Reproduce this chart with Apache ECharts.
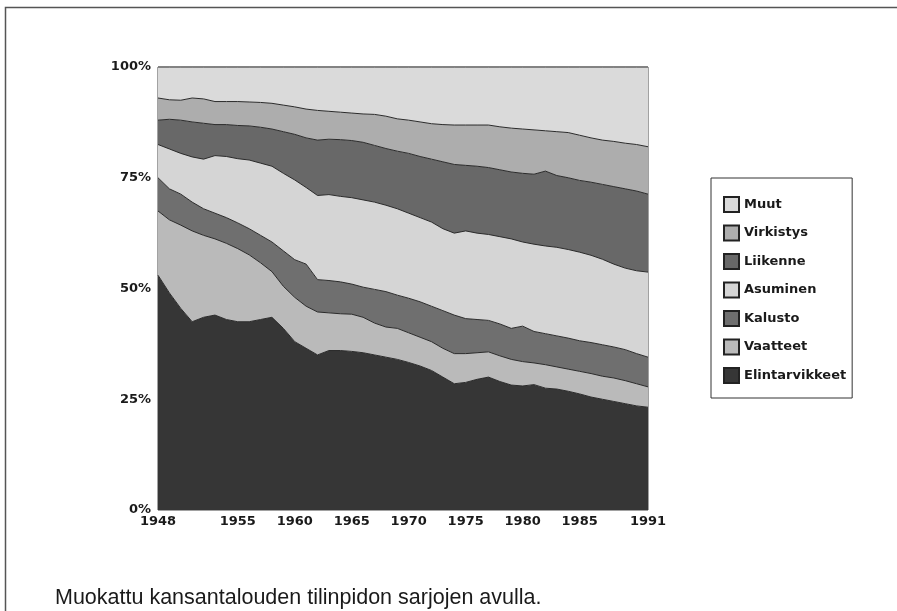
<!DOCTYPE html>
<html>
<head>
<meta charset="utf-8">
<title>Kulutusrakenne 1948-1991</title>
<script src="https://cdn.jsdelivr.net/npm/echarts@6/dist/echarts.min.js"></script>
<style>
  html, body { margin: 0; padding: 0; background: #fff; }
  #chart { width: 897px; height: 611px; }
</style>
</head>
<body>
<div id="chart"></div>
<script>
// vuodet 1948-1991
var years = [];
for (var y = 1948; y <= 1991; y++) years.push(String(y));
var shownYears = ['1948', '1955', '1960', '1965', '1970', '1975', '1980', '1985', '1991'];
var yTicks = ['0%', '25%', '50%', '75%', '100%'];

// osuudet kulutuksesta, %
var elintarvikkeet = [53, 49, 45.5, 42.5, 43.5, 44, 43, 42.5, 42.5, 43, 43.5, 41, 38, 36.5, 35, 36, 36, 35.8, 35.5, 35, 34.5, 34,
  33.3, 32.5, 31.5, 30, 28.5, 28.8, 29.5, 30, 29, 28.2, 28, 28.3, 27.5, 27.3, 26.8, 26.2, 25.5, 25, 24.5, 24, 23.5, 23.2];
var vaatteet = [14.5, 16.5, 18.8, 20.5, 18.5, 17.2, 17.2, 16.5, 15.1, 12.8, 10.3, 9.5, 10, 9.5, 9.7, 8.5, 8.3, 8.4, 8, 7.2, 6.8, 7,
  6.7, 6.5, 6.5, 6.5, 6.8, 6.5, 6, 5.7, 5.8, 5.8, 5.5, 4.9, 5.3, 5, 5, 5.1, 5.3, 5.2, 5.3, 5.2, 5, 4.6];
var kalusto = [7.5, 7, 7, 6.5, 6, 5.8, 5.8, 5.8, 5.9, 6.2, 6.7, 8, 8.5, 9.5, 7.3, 7.3, 7.2, 6.8, 6.8, 7.6, 8, 7.5,
  7.8, 8, 8, 8.5, 8.7, 7.9, 7.5, 7.1, 7.2, 7, 8, 7.1, 7, 7, 7, 6.9, 7, 7.1, 7, 7, 6.8, 6.7];
var asuminen = [7.5, 9, 9.2, 10.2, 11.2, 13, 13.8, 14.5, 15.5, 16.3, 17.1, 17.5, 18, 17.3, 19, 19.4, 19.3, 19.5, 19.7, 19.7, 19.5, 19.5,
  19.2, 19, 19, 18.5, 18.5, 19.8, 19.5, 19.4, 19.7, 20.2, 19, 19.7, 19.8, 20, 20, 20, 19.7, 19.3, 18.7, 18.4, 18.7, 19.2];
var liikenne = [5.5, 6.7, 7.5, 7.9, 8.1, 7, 7.2, 7.5, 7.7, 8.1, 8.4, 9.4, 10.3, 11.2, 12.5, 12.5, 12.8, 12.9, 13, 12.8, 12.8, 13,
  13.5, 13.8, 14.2, 15.1, 15.5, 14.8, 15.1, 15.1, 15.1, 15.1, 15.5, 15.8, 16.9, 16.2, 16.2, 16.2, 16.5, 16.9, 17.5, 17.9, 18, 17.6];
var virkistys = [5, 4.4, 4.5, 5.4, 5.5, 5.2, 5.2, 5.4, 5.4, 5.6, 5.8, 6, 6.2, 6.5, 6.7, 6.3, 6.2, 6.2, 6.4, 7, 7.3, 7.3,
  7.5, 7.8, 8, 8.4, 8.9, 9.1, 9.3, 9.6, 9.7, 9.9, 10, 10, 9.1, 9.9, 10.2, 10.2, 10, 10, 10.2, 10.3, 10.5, 10.7];
var muut = [7, 7.4, 7.5, 7, 7.2, 7.8, 7.8, 7.8, 7.9, 8, 8.2, 8.6, 9, 9.5, 9.8, 10, 10.2, 10.4, 10.6, 10.7, 11.1, 11.7,
  12, 12.4, 12.8, 13, 13.1, 13.1, 13.1, 13.1, 13.5, 13.8, 14, 14.2, 14.4, 14.6, 14.8, 15.4, 16, 16.5, 16.8, 17.2, 17.5, 18];

var chart = echarts.init(document.getElementById('chart'));
var boldFont = '"DejaVu Sans", Verdana, sans-serif';

function area(name, data, color) {
  return {
    name: name,
    type: 'line',
    stack: 'total',
    data: data,
    showSymbol: false,
    symbol: 'none',
    lineStyle: { width: 1, color: '#2a2a2a' },
    itemStyle: { color: color, borderColor: '#222', borderWidth: 1 },
    areaStyle: { color: color, opacity: 1 }
  };
}

chart.setOption({
  animation: false,
  backgroundColor: '#fff',
  grid: {
    left: 158, top: 67, right: 249, bottom: 101,
    show: true, borderColor: '#444', borderWidth: 1, backgroundColor: 'transparent'
  },
  xAxis: {
    type: 'category',
    data: years,
    boundaryGap: false,
    axisLine: { show: false },
    axisTick: { show: false },
    axisLabel: {
      interval: function (i, v) { return shownYears.indexOf(v) >= 0; },
      margin: 5,
      color: '#1a1a1a',
      fontWeight: 'bold',
      fontSize: 13,
      fontFamily: boldFont
    },
    splitLine: { show: false }
  },
  yAxis: {
    type: 'value',
    min: 0, max: 100, interval: 25,
    axisLine: { show: false },
    axisTick: { show: false },
    splitLine: { show: false },
    axisLabel: {
      margin: 7,
      color: '#1a1a1a',
      fontWeight: 'bold',
      fontSize: 13,
      fontFamily: boldFont,
      formatter: function (v) { return yTicks[v / 25]; }
    }
  },
  legend: {
    orient: 'vertical',
    left: 711, top: 178,
    padding: [18, 6, 14, 12],
    itemWidth: 15, itemHeight: 15, itemGap: 11.5,
    borderColor: '#333', borderWidth: 1,
    icon: 'rect',
    data: ['Muut', 'Virkistys', 'Liikenne', 'Asuminen', 'Kalusto', 'Vaatteet', 'Elintarvikkeet'],
    textStyle: { fontSize: 13, lineHeight: 15, fontWeight: 'bold', color: '#1a1a1a', fontFamily: boldFont }
  },
  graphic: [
    {
      type: 'rect', left: 3, top: 5, silent: true,
      shape: { width: 910, height: 620 },
      style: { fill: 'none', stroke: '#555', lineWidth: 1.5 }
    },
    {
      type: 'text', left: 55, top: 587,
      style: { text: 'Muokattu kansantalouden tilinpidon sarjojen avulla.', font: '21.5px "Liberation Sans", Arial, sans-serif', fill: '#1a1a1a' }
    }
  ],
  series: [
    area('Elintarvikkeet', elintarvikkeet, '#363636'),
    area('Vaatteet', vaatteet, '#bababa'),
    area('Kalusto', kalusto, '#6f6f6f'),
    area('Asuminen', asuminen, '#d5d5d5'),
    area('Liikenne', liikenne, '#686868'),
    area('Virkistys', virkistys, '#adadad'),
    area('Muut', muut, '#dadada')
  ]
});
</script>
</body>
</html>
